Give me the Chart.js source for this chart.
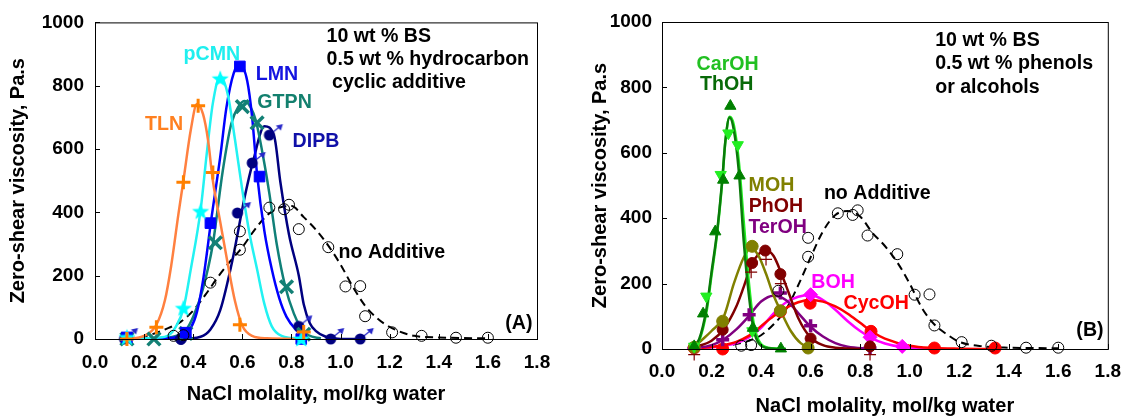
<!DOCTYPE html>
<html>
<head>
<meta charset="utf-8">
<script src="https://cdn.jsdelivr.net/npm/chart.js@4.4.1/dist/chart.umd.min.js"></script>
<style>
  html, body { margin: 0; padding: 0; background: #fff; overflow: hidden; }
  #boxA { position: absolute; left: 0; top: 0; width: 566px; height: 416px; }
  #boxB { position: absolute; left: 566px; top: 0; width: 566px; height: 416px; }
</style>
</head>
<body>
<div id="boxA"><canvas id="chartA"></canvas></div>
<div id="boxB"><canvas id="chartB"></canvas></div>
<script>
// axis ticks
const xTicks = [0, 0.2, 0.4, 0.6, 0.8, 1.0, 1.2, 1.4, 1.6, 1.8];
const yTicks = [0, 200, 400, 600, 800, 1000];

// no additive (both panels)
const noAddX = [0.32, 0.36, 0.47, 0.59, 0.59, 0.71, 0.77, 0.79, 0.83, 0.95, 1.02, 1.08, 1.10, 1.21, 1.33, 1.47, 1.60];
const noAddY = [10, 12, 178, 340, 282, 415, 410, 424, 347, 290, 166, 167, 72, 21, 10, 4, 4];
const noAddFitX = [0.13, 0.2, 0.3, 0.35, 0.4, 0.45, 0.5, 0.55, 0.6, 0.65, 0.7, 0.75, 0.8, 0.85, 0.9, 0.95, 1.0, 1.05, 1.1, 1.15, 1.2, 1.3, 1.4, 1.5, 1.6];
const noAddFitA = [2, 8, 35, 55, 90, 140, 195, 245, 290, 345, 390, 415, 420, 385, 345, 295, 235, 165, 105, 65, 38, 10, 5, 3, 2];
const noAddFitB = [2, 5, 15, 25, 42, 75, 120, 195, 280, 360, 410, 422, 405, 355, 315, 265, 200, 125, 75, 45, 22, 8, 4, 3, 2];

// panel A: hydrocarbon cyclic additives
const tlnX = [0.13, 0.25, 0.36, 0.42, 0.48, 0.59, 0.85];
const tlnY = [0, 37, 495, 737, 526, 45, 22];
const tlnFitX = [0.13, 0.2, 0.25, 0.285, 0.31, 0.34, 0.36, 0.39, 0.415, 0.44, 0.46, 0.48, 0.51, 0.54, 0.57, 0.6, 0.64, 0.7, 0.85];
const tlnFitY = [0, 10, 45, 123, 230, 396, 500, 660, 742, 710, 630, 500, 370, 240, 120, 42, 10, 2, 0];

const pcmnX = [0.13, 0.36, 0.43, 0.51, 0.84];
const pcmnY = [5, 97, 403, 822, 0];
const pcmnFitX = [0.13, 0.25, 0.3, 0.33, 0.36, 0.39, 0.43, 0.455, 0.48, 0.51, 0.54, 0.57, 0.6, 0.63, 0.66, 0.69, 0.72, 0.76, 0.85];
const pcmnFitY = [0, 4, 12, 40, 95, 220, 407, 585, 745, 830, 775, 630, 470, 330, 220, 110, 40, 10, 0];

const lmnX = [0.13, 0.37, 0.47, 0.59, 0.67, 0.84];
const lmnY = [5, 20, 366, 861, 513, 0];
const lmnFitX = [0.13, 0.3, 0.36, 0.39, 0.415, 0.44, 0.475, 0.51, 0.535, 0.565, 0.59, 0.62, 0.64, 0.66, 0.69, 0.72, 0.75, 0.78, 0.82, 0.85];
const lmnFitY = [0, 3, 15, 35, 85, 185, 386, 575, 730, 840, 866, 815, 700, 520, 340, 220, 130, 70, 28, 8];

const gtpnX = [0.13, 0.24, 0.37, 0.49, 0.6, 0.66, 0.78, 0.85];
const gtpnY = [0, 0, 18, 304, 734, 683, 165, 15];
const gtpnFitX = [0.13, 0.25, 0.33, 0.37, 0.4, 0.44, 0.48, 0.52, 0.555, 0.585, 0.61, 0.635, 0.655, 0.685, 0.71, 0.74, 0.775, 0.81, 0.835, 0.87, 0.92];
const gtpnFitY = [0, 2, 10, 28, 70, 160, 300, 530, 680, 735, 752, 730, 690, 575, 460, 300, 165, 80, 40, 12, 2];

const dipbX = [0.12, 0.35, 0.58, 0.64, 0.71, 0.83, 0.96, 1.08];
const dipbY = [0, 0, 398, 556, 644, 40, 0, 0];
const dipbFitX = [0.11, 0.35, 0.43, 0.47, 0.51, 0.56, 0.61, 0.645, 0.69, 0.73, 0.755, 0.79, 0.83, 0.85, 0.875, 0.9, 0.94, 1.0, 1.08];
const dipbFitY = [0, 0, 7, 30, 91, 250, 450, 565, 672, 640, 495, 330, 200, 110, 50, 25, 7, 0, 0];

// panel B: phenols or alcohols
const thohX = [0.13, 0.166, 0.215, 0.247, 0.276, 0.313, 0.367, 0.48];
const thohY = [8, 108, 359, 517, 743, 530, 64, 1];
const caroX = [0.13, 0.179, 0.237, 0.268, 0.306, 0.365];
const caroY = [8, 161, 533, 660, 624, 55];
const greenFitX = [0.12, 0.15, 0.18, 0.2, 0.223, 0.243, 0.256, 0.273, 0.29, 0.31, 0.33, 0.35, 0.37, 0.4, 0.45, 0.5];
const thohFitY = [3, 30, 125, 235, 363, 515, 637, 708, 670, 545, 330, 170, 60, 10, 1, 0];
const caroFitY = [3, 25, 115, 225, 355, 510, 635, 710, 685, 575, 390, 210, 80, 15, 2, 0];

const mohX = [0.13, 0.245, 0.364, 0.478, 0.59];
const mohY = [5, 85, 314, 117, 3];
const mohFitX = [0.13, 0.15, 0.2, 0.25, 0.29, 0.33, 0.36, 0.39, 0.42, 0.45, 0.48, 0.52, 0.56, 0.6];
const mohFitY = [5, 20, 55, 100, 200, 280, 310, 285, 230, 165, 115, 55, 18, 4];

const phohX = [0.13, 0.245, 0.364, 0.417, 0.478, 0.6, 0.84];
const phohY = [5, 59, 263, 301, 229, 32, 8];
const phoh2X = [0.13, 0.36, 0.42, 0.48, 0.84];
const phoh2Y = [-17, 235, 274, 200, -17];
const phohFitX = [0.13, 0.2, 0.25, 0.3, 0.33, 0.36, 0.39, 0.42, 0.45, 0.48, 0.51, 0.55, 0.6, 0.65, 0.7, 0.8];
const phohFitY = [5, 25, 62, 130, 190, 255, 290, 302, 285, 235, 175, 95, 35, 12, 4, 0];

const terX = [0.13, 0.245, 0.352, 0.478, 0.6, 0.84];
const terY = [3, 28, 105, 171, 71, 3];
const terFitX = [0.13, 0.2, 0.25, 0.3, 0.35, 0.4, 0.45, 0.5, 0.55, 0.6, 0.65, 0.7, 0.75, 0.84];
const terFitY = [3, 12, 30, 60, 100, 145, 163, 150, 110, 68, 38, 18, 7, 1];

const bohX = [0.13, 0.6, 0.84, 0.97];
const bohY = [3, 166, 36, 8];
const bohFitX = [0.13, 0.2, 0.25, 0.3, 0.35, 0.4, 0.45, 0.5, 0.55, 0.6, 0.65, 0.7, 0.75, 0.8, 0.85, 0.9, 0.97, 1.1];
const bohFitY = [2, 5, 10, 18, 35, 65, 108, 142, 160, 165, 150, 120, 85, 55, 32, 17, 6, 1];

const cycX = [0.13, 0.245, 0.478, 0.598, 0.844, 1.1, 1.345];
const cycY = [3, 0, 115, 140, 54, 3, 3];
const cycFitX = [0.13, 0.2, 0.25, 0.3, 0.35, 0.4, 0.45, 0.5, 0.55, 0.6, 0.65, 0.7, 0.75, 0.8, 0.85, 0.9, 1.0, 1.1, 1.2, 1.34];
const cycFitY = [2, 6, 12, 22, 40, 70, 100, 125, 143, 150, 145, 130, 108, 80, 52, 32, 10, 3, 1, 0];

// annotation texts (in data units)
const notesA = [
  { text: 'TLN', x: 0.281, y: 678, color: '#FF8020' },
  { text: 'pCMN', x: 0.476, y: 897, color: '#1FEFEF' },
  { text: 'LMN', x: 0.741, y: 836, color: '#1414E0' },
  { text: 'GTPN', x: 0.772, y: 748, color: '#13806E' },
  { text: 'DIPB', x: 0.9, y: 625, color: '#1010A8' },
  { text: 'no Additive', x: 1.209, y: 274, color: '#000' },
  { text: '(A)', x: 1.726, y: 50, color: '#000' },
  { text: '10 wt % BS', x: 0.943, y: 956, color: '#000', align: 'left' },
  { text: '0.5 wt % hydrocarbon', x: 0.943, y: 882, color: '#000', align: 'left' },
  { text: ' cyclic additive', x: 0.943, y: 811, color: '#000', align: 'left' }
];
const notesB = [
  { text: 'CarOH', x: 0.265, y: 869, color: '#22C022' },
  { text: 'ThOH', x: 0.261, y: 808, color: '#086A08' },
  { text: 'MOH', x: 0.442, y: 499, color: '#808000' },
  { text: 'PhOH', x: 0.46, y: 436, color: '#800000' },
  { text: 'TerOH', x: 0.467, y: 372, color: '#800080' },
  { text: 'no Additive', x: 0.869, y: 474, color: '#000' },
  { text: 'BOH', x: 0.691, y: 204, color: '#FF00FF' },
  { text: 'CycOH', x: 0.865, y: 140, color: '#FF0000' },
  { text: '(B)', x: 1.728, y: 56, color: '#000' },
  { text: '10 wt % BS', x: 1.103, y: 943, color: '#000', align: 'left' },
  { text: '0.5 wt % phenols', x: 1.103, y: 872, color: '#000', align: 'left' },
  { text: 'or alcohols', x: 1.103, y: 800, color: '#000', align: 'left' }
];

const FAMILY = '"Liberation Sans", Arial, sans-serif';
Chart.defaults.font.family = FAMILY;
Chart.defaults.color = '#000';

function pts(xs, ys) {
  return xs.map((x, i) => ({ x: x, y: ys[i] }));
}

// filled star marker
function starIcon(color) {
  const c = document.createElement('canvas');
  c.width = 20; c.height = 20;
  const g = c.getContext('2d');
  g.fillStyle = color;
  g.beginPath();
  for (let i = 0; i < 10; i++) {
    const a = -Math.PI / 2 + i * Math.PI / 5;
    const r = i % 2 ? 3.8 : 9;
    g.lineTo(10 + r * Math.cos(a), 10.5 + r * Math.sin(a));
  }
  g.closePath();
  g.fill();
  return c;
}

// filled dot with small up-right arrow (lower bound)
function arrowDot(color) {
  const c = document.createElement('canvas');
  c.width = 36; c.height = 36;
  const g = c.getContext('2d');
  g.strokeStyle = '#2828C8';
  g.fillStyle = '#2828C8';
  g.lineWidth = 1.2;
  g.beginPath(); g.moveTo(18, 18); g.lineTo(29, 9); g.stroke();
  g.beginPath(); g.moveTo(31.5, 7); g.lineTo(24.5, 8.5); g.lineTo(29.5, 13.5); g.closePath(); g.fill();
  g.fillStyle = color;
  g.beginPath(); g.arc(18, 18, 5.5, 0, Math.PI * 2); g.fill();
  return c;
}

function marks(xs, ys, style, color, extra) {
  return Object.assign({
    data: pts(xs, ys), showLine: false, pointStyle: style,
    pointRadius: 5.5, pointBackgroundColor: color, pointBorderColor: color,
    pointBorderWidth: 1, clip: false, order: 0
  }, extra || {});
}

function fit(xs, ys, color, extra) {
  return Object.assign({
    data: pts(xs, ys), showLine: true, pointRadius: 0, borderColor: color,
    borderWidth: 2.5, cubicInterpolationMode: 'monotone', fill: false, order: 1
  }, extra || {});
}

function framePlugin(notes) {
  return {
    id: 'frame',
    afterDatasetsDraw(chart) {
      const { ctx, chartArea: a, scales: { x, y } } = chart;
      ctx.save();
      ctx.strokeStyle = '#000';
      ctx.lineWidth = 1;
      ctx.strokeRect(a.left + 0.5, a.top + 0.5, a.right - a.left, a.bottom - a.top);
      ctx.beginPath();
      xTicks.forEach(v => {
        const px = Math.round(x.getPixelForValue(v)) + 0.5;
        ctx.moveTo(px, a.bottom); ctx.lineTo(px, a.bottom - 5);
      });
      yTicks.forEach(v => {
        const py = Math.round(y.getPixelForValue(v)) + 0.5;
        ctx.moveTo(a.left, py); ctx.lineTo(a.left + 5, py);
      });
      ctx.stroke();
      ctx.font = 'bold 19.6px ' + FAMILY;
      ctx.textBaseline = 'middle';
      notes.forEach(n => {
        ctx.fillStyle = n.color;
        ctx.textAlign = n.align || 'center';
        ctx.fillText(n.text, x.getPixelForValue(n.x), y.getPixelForValue(n.y));
      });
      ctx.restore();
    }
  };
}

function scales(yWidth, xHeight, xPad, yPad, yTitlePad, xTitle) {
  return {
    x: {
      type: 'linear', min: 0, max: 1.8,
      afterBuildTicks: s => { s.ticks = xTicks.map(v => ({ value: v })); },
      afterFit: s => { s.height = xHeight; },
      ticks: { callback: v => v.toFixed(1), font: { size: 19, weight: 'bold' }, padding: xPad, maxRotation: 0 },
      grid: { display: false, drawTicks: false },
      border: { display: false },
      title: { display: true, text: 'NaCl molality, mol/kg water', font: xTitle.font, padding: xTitle.padding }
    },
    y: {
      type: 'linear', min: 0, max: 1000,
      afterBuildTicks: s => { s.ticks = yTicks.map(v => ({ value: v })); },
      afterFit: s => { s.width = yWidth; },
      ticks: { callback: v => String(v), font: { size: 19, weight: 'bold' }, padding: yPad },
      grid: { display: false, drawTicks: false },
      border: { display: false },
      title: { display: true, text: 'Zero-shear viscosity, Pa.s', font: { size: 20, weight: 'bold' }, padding: { top: yTitlePad, bottom: 0 } }
    }
  };
}

const baseOpts = {
  responsive: true, maintainAspectRatio: false, animation: false, devicePixelRatio: 1,
  plugins: { legend: { display: false }, tooltip: { enabled: false } },
  events: []
};

const star = starIcon('#00FFFF');
const dipbStyles = dipbX.map((v, i) => i === 1 ? 'circle' : arrowDot('#000080'));

new Chart(document.getElementById('chartA'), {
  type: 'scatter',
  data: {
    datasets: [
      marks(noAddX, noAddY, 'circle', '#000', { pointBackgroundColor: 'rgba(0,0,0,0)', pointRadius: 5.5 }),
      marks(tlnX, tlnY, 'cross', '#FF8000', { pointRadius: 7, pointBorderWidth: 3 }),
      marks(pcmnX, pcmnY, star, '#00FFFF'),
      marks(lmnX, lmnY, 'rect', '#0000FF', { pointRadius: 7.5 }),
      marks(gtpnX, gtpnY, 'crossRot', '#138075', { pointRadius: 9, pointBorderWidth: 3.5 }),
      marks(dipbX, dipbY, dipbStyles, '#000080', { pointRadius: 5.5 }),
      fit(noAddFitX, noAddFitA, '#000', { borderWidth: 2, borderDash: [8, 5], order: 2 }),
      fit(tlnFitX, tlnFitY, '#FF8040'),
      fit(pcmnFitX, pcmnFitY, '#22F2F2'),
      fit(lmnFitX, lmnFitY, '#0000FF'),
      fit(gtpnFitX, gtpnFitY, '#108078'),
      fit(dipbFitX, dipbFitY, '#000080')
    ]
  },
  options: Object.assign({}, baseOpts, {
    layout: { padding: { top: 22, right: 29, left: 0, bottom: 0 } },
    scales: scales(95, 77, 12, 11, 6, { font: { size: 20, weight: 'bold' }, padding: { top: 0, bottom: 10 } })
  }),
  plugins: [framePlugin(notesA)]
});

new Chart(document.getElementById('chartB'), {
  type: 'scatter',
  data: {
    datasets: [
      marks(noAddX, noAddY, 'circle', '#000', { pointBackgroundColor: 'rgba(0,0,0,0)', pointRadius: 5.5 }),
      marks(thohX, thohY, 'triangle', '#008000', { pointRadius: 6.5 }),
      marks(caroX, caroY, 'triangle', '#22EE22', { pointRadius: 6.5, rotation: 180 }),
      marks(mohX, mohY, 'circle', '#808000', { pointRadius: 6 }),
      marks(phohX, phohY, 'circle', '#800000', { pointRadius: 5.5 }),
      marks(phoh2X, phoh2Y, 'cross', '#800000', { pointRadius: 6, pointBorderWidth: 1.2 }),
      marks(terX, terY, 'cross', '#800080', { pointRadius: 6.5, pointBorderWidth: 3.5 }),
      marks(bohX, bohY, 'rectRot', '#FF00FF', { pointRadius: 7 }),
      marks(cycX, cycY, 'circle', '#FF0000', { pointRadius: 6 }),
      fit(noAddFitX, noAddFitB, '#000', { borderWidth: 2, borderDash: [8, 5], order: 2 }),
      fit(greenFitX, thohFitY, '#0A7A0A'),
      fit(greenFitX, caroFitY, '#22EE22'),
      fit(mohFitX, mohFitY, '#808000'),
      fit(phohFitX, phohFitY, '#800000'),
      fit(terFitX, terFitY, '#800080'),
      fit(cycFitX, cycFitY, '#FF0000'),
      fit(bohFitX, bohFitY, '#FF00FF')
    ]
  },
  options: Object.assign({}, baseOpts, {
    layout: { padding: { top: 22, right: 15, left: 0, bottom: 0 } },
    scales: scales(96, 67, 11, 10, 22, { font: { size: 20, weight: 'bold', lineHeight: 1 }, padding: { top: 0, bottom: 0 } })
  }),
  plugins: [framePlugin(notesB)]
});
</script>
</body>
</html>
